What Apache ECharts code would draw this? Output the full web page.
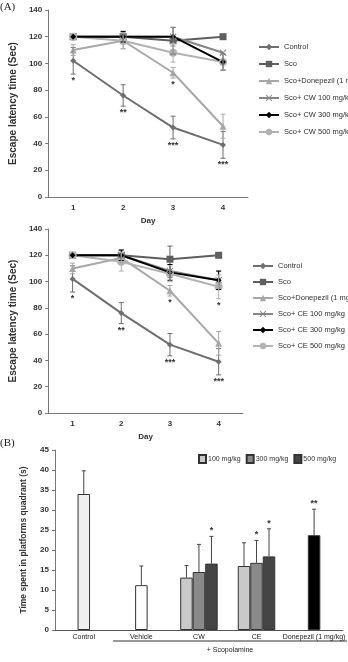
<!DOCTYPE html>
<html>
<head>
<meta charset="utf-8">
<script src="https://cdn.jsdelivr.net/npm/echarts@6/dist/echarts.min.js"></script>
<style>
html, body { margin: 0; padding: 0; background: #fff; }
#chart-container { width: 348px; height: 662px; }
</style>
</head>
<body>
<div id="chart-container"></div>
<script>
// ---- (A) escape latency, 4 days ----
var days = ['1', '2', '3', '4'];

var controlMean = [102, 76, 52, 39];
var controlErr = [10, 8, 8.5, 10];
var controlStars = ['*', '**', '***', '***'];

var scoMean = [120, 120, 117, 120];
var scoErr = [0, 0, 10, 0];

var donepezilMean = [110, 117, 93, 53];
var donepezilErr = [4, 6, 4, 9];
var donepezilStars = ['', '', '*', ''];

// top panel: CW
var cw100Mean = [120, 120, 120, 108];
var cw100Err = [0, 4, 7, 0];
var cw300Mean = [120, 120, 120, 101];
var cw300Err = [0, 4, 0, 6];
var cw500Mean = [120, 117, 108, 101];
var cw500Err = [0, 6, 7, 6];

// bottom panel: CE
var donepezilMean2 = [110, 118, 93, 53];
var donepezilErr2 = [4, 4, 4, 9];
var ce100Mean = [120, 120, 108, 101];
var ce100Err = [0, 4, 5, 7];
var ce300Mean = [120, 120, 107, 101];
var ce300Err = [0, 4, 6, 7];
var ce500Mean = [120, 115, 106, 96];
var ce500Err = [0, 7, 6, 9];
var ce500Stars = ['', '', '', '*'];

// ---- (B) probe test ----
var groups = ['Control', 'Vehicle', 'CW', 'CE', 'Donepezil (1 mg/kg)'];
var singleMean = [34.0, 11.2, null, null, 23.7]; // control / vehicle / donepezil
var singleErr = [5.8, 4.8, null, null, 6.5];
var singleStars = ['', '', '', '', '**'];
var dose100 = [null, null, 13.1, 16.0, null];
var dose100Err = [null, null, 3.0, 5.8, null];
var dose100Stars = ['', '', '', '', ''];
var dose300 = [null, null, 14.5, 16.8, null];
var dose300Err = [null, null, 6.9, 5.6, null];
var dose300Stars = ['', '', '', '*', ''];
var dose500 = [null, null, 16.6, 18.4, null];
var dose500Err = [null, null, 6.8, 6.9, null];
var dose500Stars = ['', '', '*', '*', ''];

var FONT = 'Liberation Sans';
var xPath = 'path://M0,1L1,0L5,4L9,0L10,1L6,5L10,9L9,10L5,6L1,10L0,9L4,5Z';

var chart = echarts.init(document.getElementById('chart-container'));

// 誤差線 (custom series)
function errSeries(xi, yi, mean, err, color, stars, both, offset, capW) {
    var items = [], st = [];
    mean.forEach(function (v, i) {
        if (v == null) return;
        items.push([i, v, err[i] || 0]);
        st.push(stars ? stars[i] : '');
    });
    return {
        type: 'custom',
        xAxisIndex: xi,
        yAxisIndex: yi,
        silent: true,
        z: 5,
        data: items,
        renderItem: function (params, api) {
            var i = api.value(0), v = api.value(1), e = api.value(2);
            var base = api.coord([i, v]);
            var hi = api.coord([i, v + e]);
            var lo = api.coord([i, v - e]);
            var x = base[0] + (offset || 0);
            var children = [];
            if (e > 0) {
                var yEnd = both ? lo[1] : base[1];
                children.push({ type: 'line', shape: { x1: x, y1: hi[1], x2: x, y2: yEnd }, style: { stroke: color, lineWidth: 1 } });
                children.push({ type: 'line', shape: { x1: x - capW, y1: hi[1], x2: x + capW, y2: hi[1] }, style: { stroke: color, lineWidth: 1 } });
                if (both) children.push({ type: 'line', shape: { x1: x - capW, y1: lo[1], x2: x + capW, y2: lo[1] }, style: { stroke: color, lineWidth: 1 } });
            }
            var s = st[params.dataIndex];
            if (s) {
                children.push({
                    type: 'text',
                    style: {
                        text: s, x: x, y: both ? lo[1] + 2 : hi[1] - 1,
                        align: 'center', verticalAlign: both ? 'top' : 'bottom',
                        fill: '#333', font: 'bold 9px ' + FONT
                    }
                });
            }
            return { type: 'group', children: children };
        }
    };
}

function lineSeries(xi, yi, name, data, color, symbol, size) {
    return {
        type: 'line', name: name, xAxisIndex: xi, yAxisIndex: yi, data: data,
        symbol: symbol, symbolSize: size,
        lineStyle: { color: color, width: 2 },
        itemStyle: { color: color },
        z: 3
    };
}

function barSeries(xi, name, data, color) {
    return {
        type: 'bar', name: name, xAxisIndex: xi, yAxisIndex: 2, data: data,
        barWidth: 12.5, barGap: 0,
        itemStyle: { color: color, borderColor: '#333', borderWidth: 1 }
    };
}

var C = {
    control: '#6f6f6f', sco: '#5e5e5e', don: '#a8a8a8',
    d100: '#868686', d300: '#000000', d500: '#b2b2b2'
};

function dayAxis(gi) {
    return {
        type: 'category', gridIndex: gi, data: days,
        name: 'Day', nameLocation: 'middle', nameGap: 20,
        nameTextStyle: { fontFamily: FONT, fontSize: 8, fontWeight: 'bold', color: '#333' },
        axisLine: { lineStyle: { color: '#777' } },
        axisTick: { lineStyle: { color: '#777' }, length: 3 },
        axisLabel: { fontFamily: FONT, fontSize: 8, fontWeight: 'bold', color: '#333', margin: 7 }
    };
}

function valAxis(gi, max, interval, name, gap, nameSize) {
    return {
        type: 'value', gridIndex: gi, min: 0, max: max, interval: interval,
        name: name, nameLocation: 'middle', nameGap: gap,
        nameTextStyle: { fontFamily: FONT, fontSize: nameSize, fontWeight: 'bold', color: '#333' },
        splitLine: { show: false },
        axisLine: { show: true, lineStyle: { color: '#777' } },
        axisTick: { show: true, length: 3, lineStyle: { color: '#777' } },
        axisLabel: { fontFamily: FONT, fontSize: 8, fontWeight: 'bold', color: '#333', margin: 6 }
    };
}

var legendText = { fontFamily: FONT, fontSize: 7.5, color: '#333', lineHeight: 10 };

var option = {
    animation: false,
    backgroundColor: '#fff',
    grid: [
        { left: 40, top: 10, width: 208, height: 187 },
        { left: 40, top: 229, width: 203, height: 184 },
        { left: 55, top: 450, width: 292, height: 180 }
    ],
    legend: [
        {
            orient: 'vertical', left: 253, top: 37, itemWidth: 20, itemHeight: 8, itemGap: 7,
            textStyle: legendText,
            data: ['Control', 'Sco', 'Sco+Donepezil (1 mg/kg)', 'Sco+ CW 100 mg/kg', 'Sco+ CW 300 mg/kg', 'Sco+ CW 500 mg/kg']
        },
        {
            orient: 'vertical', left: 247, top: 256, itemWidth: 20, itemHeight: 8, itemGap: 6,
            textStyle: legendText,
            data: ['Control', 'Sco', 'Sco+Donepezil (1 mg/kg)', 'Sco+ CE 100 mg/kg', 'Sco+ CE 300 mg/kg', 'Sco+ CE 500 mg/kg']
        },
        {
            orient: 'horizontal', left: 193, top: 449, itemWidth: 7, itemHeight: 8, itemGap: 5,
            icon: 'rect',
            textStyle: { fontFamily: FONT, fontSize: 7, color: '#333', padding: [0, 0, 0, -3] },
            data: ['100 mg/kg', '300 mg/kg', '500 mg/kg']
        }
    ],
    xAxis: [
        dayAxis(0),
        dayAxis(1),
        {
            type: 'category', gridIndex: 2, data: groups,
            axisLine: { lineStyle: { color: '#555' } },
            axisTick: { lineStyle: { color: '#555' }, length: 3 },
            axisLabel: { fontFamily: FONT, fontSize: 7, color: '#222', margin: 4, interval: 0 }
        },
        { type: 'category', gridIndex: 2, data: groups, show: false }
    ],
    yAxis: [
        valAxis(0, 140, 20, 'Escape latency time (Sec)', 28, 10),
        valAxis(1, 140, 20, 'Escape latency time (Sec)', 28, 10),
        valAxis(2, 45, 5, 'Time spent in platforms quadrant (s)', 27, 8.5)
    ],
    graphic: [
        { type: 'text', left: 0, top: 2, style: { text: '(A)', font: '11px Liberation Serif', fill: '#222' } },
        { type: 'text', left: 0, top: 438, style: { text: '(B)', font: '11px Liberation Serif', fill: '#222' } },
        { type: 'line', shape: { x1: 113, y1: 641, x2: 347, y2: 641 }, style: { stroke: '#333', lineWidth: 1 } },
        { type: 'text', x: 230, y: 650, style: { text: '+ Scopolamine', font: '7px ' + FONT, fill: '#222', align: 'center', verticalAlign: 'middle' } }
    ],
    series: [
        // top panel
        lineSeries(0, 0, 'Control', controlMean, C.control, 'diamond', 6),
        lineSeries(0, 0, 'Sco', scoMean, C.sco, 'rect', 7),
        lineSeries(0, 0, 'Sco+Donepezil (1 mg/kg)', donepezilMean, C.don, 'triangle', 7),
        lineSeries(0, 0, 'Sco+ CW 100 mg/kg', cw100Mean, C.d100, xPath, 7),
        lineSeries(0, 0, 'Sco+ CW 500 mg/kg', cw500Mean, C.d500, 'circle', 8),
        lineSeries(0, 0, 'Sco+ CW 300 mg/kg', cw300Mean, C.d300, 'diamond', 6),
        errSeries(0, 0, controlMean, controlErr, C.control, controlStars, true, 0, 2.5),
        errSeries(0, 0, scoMean, scoErr, C.sco, null, true, 0, 2.5),
        errSeries(0, 0, donepezilMean, donepezilErr, C.don, donepezilStars, true, 0, 2.5),
        errSeries(0, 0, cw100Mean, cw100Err, C.d100, null, true, 0, 2.5),
        errSeries(0, 0, cw300Mean, cw300Err, C.d300, null, true, 0, 2.5),
        errSeries(0, 0, cw500Mean, cw500Err, C.d500, null, true, 0, 2.5),

        // bottom panel
        lineSeries(1, 1, 'Control', controlMean, C.control, 'diamond', 6),
        lineSeries(1, 1, 'Sco', scoMean, C.sco, 'rect', 7),
        lineSeries(1, 1, 'Sco+Donepezil (1 mg/kg)', donepezilMean2, C.don, 'triangle', 7),
        lineSeries(1, 1, 'Sco+ CE 100 mg/kg', ce100Mean, C.d100, xPath, 7),
        lineSeries(1, 1, 'Sco+ CE 500 mg/kg', ce500Mean, C.d500, 'circle', 8),
        lineSeries(1, 1, 'Sco+ CE 300 mg/kg', ce300Mean, C.d300, 'diamond', 6),
        errSeries(1, 1, controlMean, controlErr, C.control, controlStars, true, 0, 2.5),
        errSeries(1, 1, scoMean, scoErr, C.sco, null, true, 0, 2.5),
        errSeries(1, 1, donepezilMean2, donepezilErr2, C.don, donepezilStars, true, 0, 2.5),
        errSeries(1, 1, ce100Mean, ce100Err, C.d100, null, true, 0, 2.5),
        errSeries(1, 1, ce300Mean, ce300Err, C.d300, null, true, 0, 2.5),
        errSeries(1, 1, ce500Mean, ce500Err, C.d500, ce500Stars, true, 0, 2.5),

        // (B) bars
        {
            type: 'bar', name: 'single', xAxisIndex: 2, yAxisIndex: 2, barWidth: 12.5,
            data: singleMean.map(function (v, i) {
                var fill = ['#efefef', '#ffffff', '#fff', '#fff', '#000000'][i];
                return { value: v, itemStyle: { color: fill, borderColor: '#333', borderWidth: 1 } };
            })
        },
        barSeries(3, '100 mg/kg', dose100, '#c9c9c9'),
        barSeries(3, '300 mg/kg', dose300, '#8a8a8a'),
        barSeries(3, '500 mg/kg', dose500, '#454545'),
        errSeries(2, 2, singleMean, singleErr, '#444', singleStars, false, 0, 2),
        errSeries(3, 2, dose100, dose100Err, '#444', dose100Stars, false, -12.5, 2),
        errSeries(3, 2, dose300, dose300Err, '#444', dose300Stars, false, 0, 2),
        errSeries(3, 2, dose500, dose500Err, '#444', dose500Stars, false, 12.5, 2)
    ]
};

chart.setOption(option);

window.addEventListener('resize', function () {
    chart.resize();
});
</script>
</body>
</html>
